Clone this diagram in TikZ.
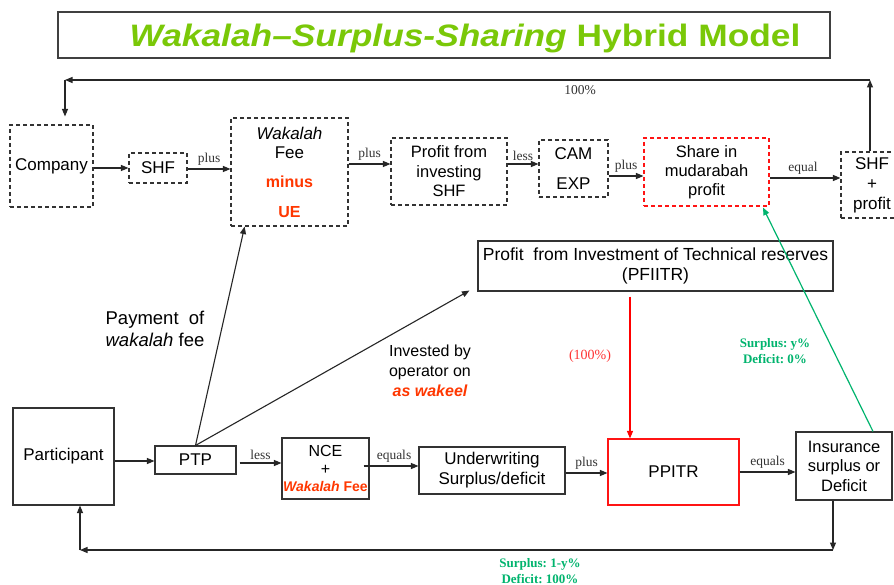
\documentclass[tikz,border=0pt]{standalone}
\usepackage{fontspec}
\setmainfont{Liberation Sans}
\newfontfamily\lblserif{Liberation Serif}
\usetikzlibrary{arrows.meta,calc}
\definecolor{titlegreen}{RGB}{122,200,8}
\definecolor{flowgreen}{RGB}{0,180,110}
\definecolor{hotred}{RGB}{255,55,0}
\definecolor{boxred}{RGB}{255,20,20}
\begin{document}
\begin{tikzpicture}[x=1pt,y=-1pt,
  sbox/.style={draw=black!80,line width=1.1pt,inner sep=0pt,align=center,
    font=\fontsize{17}{20}\selectfont},
  dbox/.style={sbox,dash pattern=on 4pt off 3pt},
  arr/.style={draw=black!85,line width=1.1pt,-{Triangle[length=7.5pt,width=6pt]}},
  lbl/.style={font=\lblserif\fontsize{13.5}{15}\selectfont,inner sep=3pt,text=black!80},
  note/.style={font=\fontsize{17}{21}\selectfont,align=center,inner sep=0pt},
  gnote/.style={font=\lblserif\bfseries\fontsize{13}{15.5}\selectfont,text=flowgreen,align=center,inner sep=0pt},
]
\useasboundingbox (0,0) rectangle (894,585);
\clip (0,0) rectangle (894,585);
\fill[white] (0,0) rectangle (894,585);

% title
\node[draw=black!75,line width=1.1pt,minimum width=772pt,minimum height=46pt,inner sep=0pt] (title) at (444,35) {};
\node[inner sep=0pt,font=\bfseries\fontsize{31}{36}\selectfont,text=titlegreen] (titletext) at (465,38)
  {\scalebox{1.14}[1]{\itshape Wakalah--Surplus-Sharing\upshape{} Hybrid Model}};

% shareholder side (dashed boxes)
\node[dbox,minimum width=83pt,minimum height=82pt] (company) at (51.5,166) {Company};
\node[dbox,minimum width=58pt,minimum height=30pt] (shf) at (158,168) {SHF};
\node[dbox,minimum width=117pt,minimum height=108pt] (wfee) at (289.5,172) {};
\node[note,font=\itshape\fontsize{17}{20}\selectfont] (wfee1) at (289.5,133) {Wakalah};
\node[note] (wfee2) at (289.5,153) {Fee};
\node[note,font=\bfseries\fontsize{16}{20}\selectfont,text=hotred] (wfee3) at (289.5,182) {minus};
\node[note,font=\bfseries\fontsize{16}{20}\selectfont,text=hotred] (wfee4) at (289.5,212) {UE};
\node[dbox,minimum width=116pt,minimum height=67pt,font=\fontsize{16.5}{19.5}\selectfont] (pis) at (449,171.5) {Profit from\\investing\\SHF};
\node[dbox,minimum width=69pt,minimum height=57pt] (cam) at (573.5,168.5) {CAM\\[10pt]EXP};
\node[dbox,draw=boxred,minimum width=125pt,minimum height=68pt,font=\fontsize{16.5}{19}\selectfont] (share) at (706.5,172) {Share in\\mudarabah\\profit};
\node[dbox,minimum width=62pt,minimum height=66pt] (shfp) at (872,185) {SHF\\+\\profit};

% investment of technical reserves
\node[sbox,minimum width=355pt,minimum height=50pt,font=\fontsize{17.5}{20.5}\selectfont] (pfiitr) at (655.5,266)
  {Profit\ \ from Investment of Technical reserves\\(PFIITR)};

% participant side (solid boxes)
\node[sbox,minimum width=101pt,minimum height=97pt] (part) at (63.5,456.5) {Participant};
\node[sbox,minimum width=81pt,minimum height=28pt] (ptp) at (195.5,460) {PTP};
\node[sbox,minimum width=87pt,minimum height=61pt,font=\fontsize{16}{17.5}\selectfont] (nce) at (325.5,468.5)
  {NCE\\+\\{\color{hotred}\bfseries\fontsize{14}{17.5}\selectfont\itshape Wakalah\upshape{} Fee}};
\node[sbox,minimum width=146pt,minimum height=47pt] (uw) at (492,470.5) {Underwriting\\Surplus/deficit};
\node[sbox,draw=boxred,minimum width=131pt,minimum height=66pt] (ppitr) at (673.5,472) {PPITR};
\node[sbox,minimum width=96pt,minimum height=68pt,font=\fontsize{16.5}{19.5}\selectfont] (ins) at (844,466)
  {Insurance\\surplus or\\Deficit};

% levels of the horizontal connectors
\coordinate (lvA) at (0,168);
\coordinate (lvB) at (0,169);
\coordinate (lvC) at (0,164);
\coordinate (lvD) at (0,176);
\coordinate (lvE) at (0,178);
\coordinate (lvP) at (0,461);
\coordinate (lvQ) at (0,463);
\coordinate (lvR) at (0,466);
\coordinate (lvS) at (0,473);
\coordinate (lvT) at (0,472);

% top flow
\draw[arr] (company.east |- lvA) -- (shf.west |- lvA);
\draw[arr] (shf.east |- lvB) -- node[lbl,above] {plus} (wfee.west |- lvB);
\draw[arr] (wfee.east |- lvC) -- node[lbl,above] {plus} (pis.west |- lvC);
\draw[arr] (pis.east |- lvC) -- node[lbl,above] {less} (cam.west |- lvC);
\draw[arr] (cam.east |- lvD) -- node[lbl,above] {plus} (share.west |- lvD);
\draw[arr] (share.east |- lvE) -- node[lbl,above,xshift=-2pt] {equal} (shfp.west |- lvE);

% return to the company
\coordinate (tr) at (870,80);
\coordinate (tl) at (65,80);
\draw[arr] (tr |- shfp.north) -- (tr);
\draw[arr] (tr) -- node[lbl,below=2pt,pos=0.36] {100\%} (tl);
\draw[arr] (tl) -- ($(tl |- company.north)+(0,-8)$);

% bottom flow
\draw[arr] (part.east |- lvP) -- (ptp.west |- lvP);
\draw[arr] ($(ptp.east |- lvQ)+(3,0)$) -- node[lbl,above] {less} (nce.west |- lvQ);
\draw[arr] ($(nce.east |- lvR)+(-6,0)$) -- node[lbl,above,xshift=3pt] {equals} (uw.west |- lvR);
\draw[arr] (uw.east |- lvS) -- node[lbl,above] {plus} (ppitr.west |- lvS);
\draw[arr] (ppitr.east |- lvT) -- node[lbl,above] {equals} (ins.west |- lvT);

% return to the participant
\coordinate (br) at (833,550);
\coordinate (bl) at (80,550);
\draw[arr] (br |- ins.south) -- (br);
\draw[arr] (br) -- (bl);
\draw[arr] (bl) -- (bl |- part.south);

% payments from PTP
\draw[arr] (ptp.north) -- ($(wfee.south west)!0.12!(wfee.south east)$);
\draw[arr] (ptp.north) -- ($(pfiitr.south west)+(-8,-1)$);

% investment profit into PPITR
\coordinate (redtop) at ($(pfiitr.south)+(-25.5,5)$);
\draw[arr,draw=red,line width=1.2pt] (redtop) -- (redtop |- ppitr.north);

% surplus share to the operator
\draw[arr,draw=flowgreen,line width=1.2pt] ($(ins.north)+(29,0)$) -- ($(share.south)+(56.5,1)$);

% free text
\node[note,font=\fontsize{18.5}{22}\selectfont] (paywf) at (155,329) {Payment\ \ of\\\itshape wakalah\upshape{} fee};
\node[note,font=\fontsize{16}{20}\selectfont] (invop) at (430,371)
  {Invested\ by\\operator\ on\\{\color{hotred}\bfseries\itshape as wakeel}};
\node[lbl,text=red!80,font=\lblserif\fontsize{14}{16}\selectfont] (hundred) at (590,356) {(100\%)};
\node[gnote] (opshare) at (775,351) {Surplus:\ y\%\\Deficit:\ 0\%};
\node[gnote] (partshare) at (540,571) {Surplus:\ 1-y\%\\Deficit:\ 100\%};
\end{tikzpicture}
\end{document}
